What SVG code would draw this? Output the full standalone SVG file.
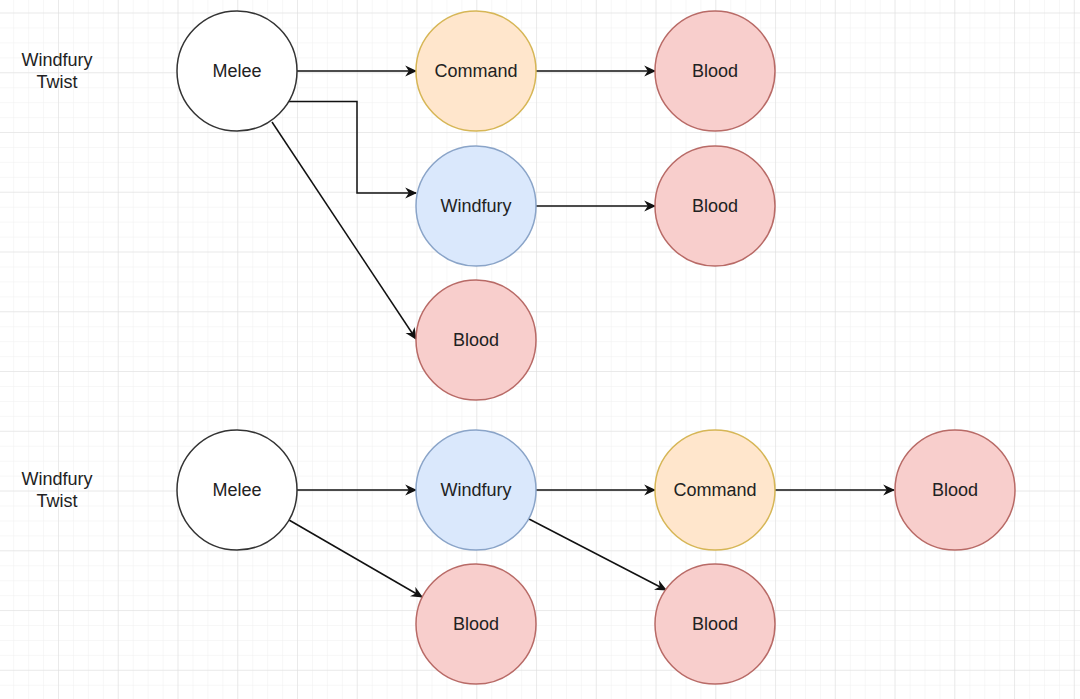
<svg xmlns="http://www.w3.org/2000/svg" width="1080" height="699" viewBox="0 0 1080 699">
<style>
.node{stroke-width:1.5}
.plain{fill:#ffffff;stroke:#333333}
.orange{fill:#ffe6cc;stroke:#d6b656}
.blue{fill:#dae8fc;stroke:#8aa4c8}
.red{fill:#f8cecc;stroke:#b86a66}
text{font-family:"Liberation Sans",Arial,sans-serif;font-size:18px;fill:#222222;text-anchor:middle;dominant-baseline:central}
.edge{fill:none;stroke:#111111;stroke-width:1.5;marker-end:url(#arr)}
</style>
<defs>
<pattern id="minor" x="58" y="12.5" width="14.94" height="14.94" patternUnits="userSpaceOnUse">
<path d="M0 0H14.94M0 0V14.94" fill="none" stroke="#f0f0f0" stroke-width="1"/>
</pattern>
<pattern id="major" x="58" y="12.5" width="59.75" height="59.75" patternUnits="userSpaceOnUse">
<path d="M0 0H59.75M0 0V59.75" fill="none" stroke="#dddddd" stroke-width="1"/>
</pattern>
<marker id="arr" viewBox="0 0 10 10" refX="9" refY="5" markerWidth="12" markerHeight="12" markerUnits="userSpaceOnUse" orient="auto">
<path d="M0 0.5L10 5L0 9.5L3 5Z" fill="#111111"/>
</marker>
</defs>
<rect width="1080" height="699" fill="#ffffff"/>
<rect width="1080" height="699" fill="url(#minor)"/>
<rect width="1080" height="699" fill="url(#major)"/>

<g id="connectors">
<path class="edge" d="M297 71H416"/>
<path class="edge" d="M289 101.5H357V193H416"/>
<path class="edge" d="M272 122L416 339"/>
<path class="edge" d="M536 71H655"/>
<path class="edge" d="M536 206H655"/>
<path class="edge" d="M297 490H416"/>
<path class="edge" d="M289 520L422 597"/>
<path class="edge" d="M529 519L666 590"/>
<path class="edge" d="M536 490H655"/>
<path class="edge" d="M775 490H894"/>
</g>

<g id="label1"><text x="57" y="60">Windfury</text><text x="57" y="82">Twist</text></g>
<g id="label2"><text x="57" y="479">Windfury</text><text x="57" y="501">Twist</text></g>

<g id="melee1"><circle class="node plain" cx="237" cy="71" r="60"/><text x="237" y="71">Melee</text></g>
<g id="command1"><circle class="node orange" cx="476" cy="71" r="60"/><text x="476" y="71">Command</text></g>
<g id="blood1"><circle class="node red" cx="715" cy="71" r="60"/><text x="715" y="71">Blood</text></g>
<g id="windfury1"><circle class="node blue" cx="476" cy="206" r="60"/><text x="476" y="206">Windfury</text></g>
<g id="blood2"><circle class="node red" cx="715" cy="206" r="60"/><text x="715" y="206">Blood</text></g>
<g id="blood3"><circle class="node red" cx="476" cy="340" r="60"/><text x="476" y="340">Blood</text></g>

<g id="melee2"><circle class="node plain" cx="237" cy="490" r="60"/><text x="237" y="490">Melee</text></g>
<g id="windfury2"><circle class="node blue" cx="476" cy="490" r="60"/><text x="476" y="490">Windfury</text></g>
<g id="command2"><circle class="node orange" cx="715" cy="490" r="60"/><text x="715" y="490">Command</text></g>
<g id="blood4"><circle class="node red" cx="955" cy="490" r="60"/><text x="955" y="490">Blood</text></g>
<g id="blood5"><circle class="node red" cx="476" cy="624" r="60"/><text x="476" y="624">Blood</text></g>
<g id="blood6"><circle class="node red" cx="715" cy="624" r="60"/><text x="715" y="624">Blood</text></g>
</svg>
